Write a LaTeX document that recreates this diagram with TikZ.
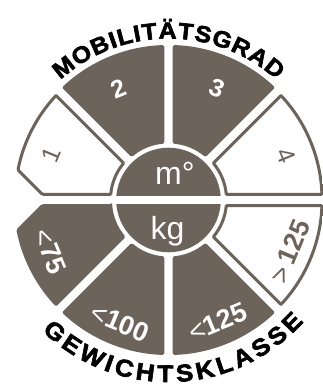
\documentclass[tikz,border=0pt]{standalone}
\usepackage{fontspec}
\setmainfont{Liberation Sans}
\newfontfamily\heavyfont[FakeBold=2.5,FakeStretch=1.08]{Liberation Sans Bold}
\usetikzlibrary{decorations.text}
\definecolor{taupe}{HTML}{6C635A}
\newcommand\sectorpath[2]{(#1+\dO:\Ro) arc[start angle=#1+\dO,end angle=#2-\dO,radius=\Ro] -- (#2-\dI:\Ri) arc[start angle=#2-\dI,end angle=#1+\dI,radius=\Ri] -- cycle}
\newcommand\segonepath{(135+\dO:\Ro) arc[start angle=135+\dO,end angle=169,radius=\Ro] -- (-126.8,4.2) -- (180-\dI:\Ri) arc[start angle=180-\dI,end angle=135+\dI,radius=\Ri] -- cycle}
\newcommand\segfivepath{(180+\dI:\Ri) -- (-126.8,-4.2) -- (191:\Ro) arc[start angle=191,end angle=225-\dO,radius=\Ro] -- (225-\dI:\Ri) arc[start angle=225-\dI,end angle=180+\dI,radius=\Ri] -- cycle}
\newcommand\lt{{\mdseries<}}
\newcommand\gt{{\mdseries>}}
\begin{document}
\begin{tikzpicture}[x=1pt,y=1pt,
  darkseg/.style={fill=taupe,rounded corners=1.5pt},
  lightseg/.style={draw=taupe,line width=6pt,rounded corners=1.5pt},
  darklabel/.style={text=white,font=\bfseries\fontsize{27}{27}\selectfont,inner sep=0pt},
  boldlabel/.style={text=white,font=\bfseries\fontsize{25}{25}\selectfont,inner sep=0pt},
  lightlabel/.style={text=taupe,font=\fontsize{25}{25}\selectfont,inner sep=0pt},
  lightlabelb/.style={text=taupe,font=\bfseries\fontsize{27}{27}\selectfont,inner sep=0pt},
  unitlabel/.style={text=white,font=\fontsize{32}{32}\selectfont,inner sep=0pt,anchor=base}]
\def\Ro{155}\def\Ri{56.5}\def\dO{1.553}\def\dI{4.263}
\useasboundingbox (-168.5,-185) rectangle (153.5,200);
% dark segments
\path[darkseg] \sectorpath{90}{135};
\path[darkseg] \sectorpath{45}{90};
\path[darkseg] \sectorpath{225}{270};
\path[darkseg] \sectorpath{270}{315};
\path[darkseg] \segfivepath;
% light segments
\begin{scope}\clip[rounded corners=1.5pt] \segonepath; \path[lightseg] \segonepath; \end{scope}
\begin{scope}\clip[rounded corners=1.5pt] \sectorpath{0}{45}; \path[lightseg] \sectorpath{0}{45}; \end{scope}
\begin{scope}\clip[rounded corners=1.5pt] \sectorpath{315}{360}; \path[lightseg] \sectorpath{315}{360}; \end{scope}
% centre
\fill[taupe] (0,0) circle[radius=52.3];
\fill[white] (-53,-4.2) rectangle (53,4.2);
\node[unitlabel] (mdeg) at (6.4,15) {m°};
\node[unitlabel] (kg) at (-1,-40) {kg};
% segment labels
\node[boldlabel,rotate=22.5] (l2) at (114:122) {2};
\node[boldlabel,rotate=-22.5] (l3) at (66.5:122) {3};
\node[lightlabel,rotate=67.5] (l1) at (159:126) {1};
\node[lightlabel,rotate=-67.5] (l4) at (20.5:126) {4};
\node[darklabel,rotate=-67.5] (l75) at (203.5:129) {\lt75};
\node[darklabel,rotate=-22.5] (l100) at (248.5:132) {\lt100};
\node[darklabel,rotate=22.5] (l125) at (292:131.5) {\lt125};
\node[lightlabelb,rotate=67.5] (g125) at (337:132) {\gt\,125};
% curved titles
\path[font=\heavyfont\fontsize{23}{23}\selectfont,decorate,decoration={text along path,text align=fit to path,
  text={|\heavyfont\fontsize{23}{23}\selectfont|MOBILIT{Ä}TSGRAD}}]
  (132:161.5) arc[start angle=132,end angle=48,radius=161.5];
\path[font=\heavyfont\fontsize{24}{24}\selectfont,decorate,decoration={text along path,text align=fit to path,
  text={|\heavyfont\fontsize{24}{24}\selectfont|GEWICHTSKLASSE}}]
  (226:182) arc[start angle=226,end angle=318,radius=182];
\end{tikzpicture}
\end{document}
